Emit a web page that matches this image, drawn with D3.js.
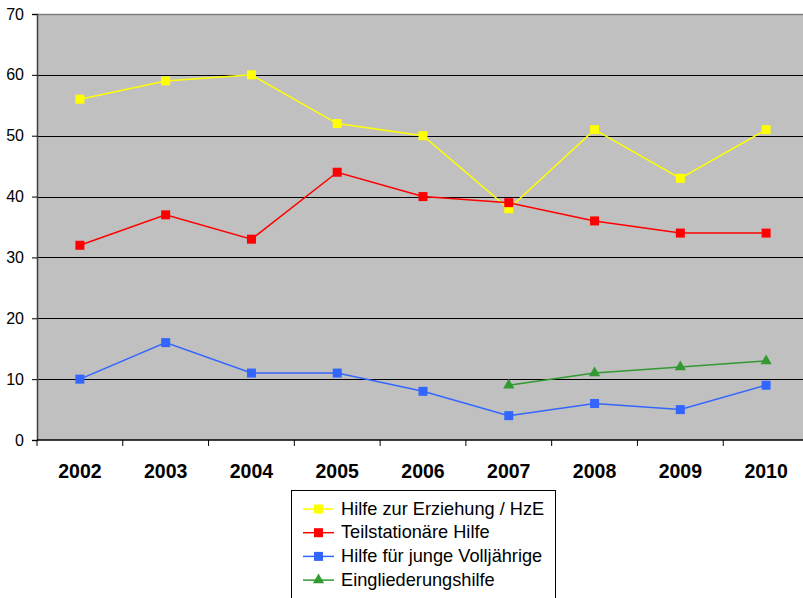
<!DOCTYPE html>
<html>
<head>
<meta charset="utf-8">
<script src="https://cdn.jsdelivr.net/npm/d3@7"></script>
<style>
  html, body { margin: 0; padding: 0; background: #fff; overflow: hidden; }
  svg { display: block; font-family: Arial, "Liberation Sans", sans-serif; }
</style>
</head>
<body>
<svg id="chart" width="803" height="598"></svg>
<script>
const years = ["2002", "2003", "2004", "2005", "2006", "2007", "2008", "2009", "2010"];
const hze = [56, 59, 60, 52, 50, 38, 51, 43, 51];
const teilstationaer = [32, 37, 33, 44, 40, 39, 36, 34, 34];
const volljaehrige = [10, 16, 11, 11, 8, 4, 6, 5, 9];
const eingliederung = [null, null, null, null, null, 9, 11, 12, 13];
const yTicks = [0, 10, 20, 30, 40, 50, 60, 70];

const series = [
  { name: "Hilfe zur Erziehung / HzE", values: hze, color: "#FFFF00", marker: "square" },
  { name: "Teilstationäre Hilfe", values: teilstationaer, color: "#FF0000", marker: "square" },
  { name: "Hilfe für junge Volljährige", values: volljaehrige, color: "#3366FF", marker: "square" },
  { name: "Eingliederungshilfe", values: eingliederung, color: "#339933", marker: "triangle" }
];

const svg = d3.select("#chart");
const plot = { left: 37, top: 14, width: 772, height: 426 };

const x = d3.scaleBand().domain(years).range([plot.left, plot.left + plot.width]);
const y = d3.scaleLinear().domain([0, 70]).range([plot.top + plot.height, plot.top]);

// plot background
svg.append("rect")
  .attr("x", plot.left).attr("y", plot.top)
  .attr("width", plot.width).attr("height", plot.height)
  .attr("fill", "#C0C0C0");

// top border
svg.append("line")
  .attr("x1", plot.left).attr("x2", plot.left + plot.width)
  .attr("y1", plot.top + 0.5).attr("y2", plot.top + 0.5)
  .attr("stroke", "#808080").attr("stroke-width", 1.5);

// horizontal gridlines
svg.append("g")
  .selectAll("line")
  .data(yTicks.filter(t => t > 0 && t < 70))
  .join("line")
  .attr("x1", plot.left).attr("x2", plot.left + plot.width)
  .attr("y1", d => Math.round(y(d)) + 0.5).attr("y2", d => Math.round(y(d)) + 0.5)
  .attr("stroke", "#000").attr("stroke-width", 1);

// y axis
const yAxis = svg.append("g")
  .attr("transform", `translate(${plot.left},0)`)
  .call(d3.axisLeft(y).tickValues(yTicks).tickSize(5).tickPadding(8));
yAxis.select(".domain").attr("stroke", "#404040").attr("stroke-width", 1.5);
yAxis.selectAll(".tick line").attr("stroke", "#000");
yAxis.selectAll("text").attr("font-size", 16).attr("fill", "#000")
  .attr("font-family", "Arial, 'Liberation Sans', sans-serif");

// x axis with ticks on category boundaries
const xAxisG = svg.append("g")
  .attr("transform", `translate(0,${plot.top + plot.height})`);
xAxisG.append("line")
  .attr("x1", plot.left).attr("x2", plot.left + plot.width)
  .attr("y1", 0).attr("y2", 0)
  .attr("stroke", "#000").attr("stroke-width", 1.5);
xAxisG.selectAll("line.tick")
  .data(years)
  .join("line")
  .attr("class", "tick")
  .attr("x1", d => x(d)).attr("x2", d => x(d))
  .attr("y1", 0).attr("y2", 6)
  .attr("stroke", "#000");
xAxisG.selectAll("text")
  .data(years)
  .join("text")
  .attr("x", d => x(d) + x.bandwidth() / 2)
  .attr("y", 37.5)
  .attr("text-anchor", "middle")
  .attr("font-size", 19.5)
  .attr("font-weight", "bold")
  .attr("fill", "#000")
  .text(d => d);

// series lines and markers
const cx = i => x(years[i]) + x.bandwidth() / 2;
const line = d3.line()
  .defined(d => d.v != null)
  .x(d => cx(d.i))
  .y(d => y(d.v));

const tri = d3.symbol().type(d3.symbolTriangle).size(55);

series.forEach(s => {
  const pts = s.values.map((v, i) => ({ v, i }));
  svg.append("path")
    .datum(pts)
    .attr("fill", "none")
    .attr("stroke", s.color)
    .attr("stroke-width", 1.5)
    .attr("d", line);
  const valid = pts.filter(p => p.v != null);
  if (s.marker === "square") {
    svg.append("g").selectAll("rect")
      .data(valid).join("rect")
      .attr("x", p => cx(p.i) - 4.5).attr("y", p => y(p.v) - 4.5)
      .attr("width", 9).attr("height", 9)
      .attr("fill", s.color);
  } else {
    svg.append("g").selectAll("path")
      .data(valid).join("path")
      .attr("transform", p => `translate(${cx(p.i)},${y(p.v)})`)
      .attr("d", tri)
      .attr("fill", s.color);
  }
});

// legend
const legend = svg.append("g");
legend.append("rect")
  .attr("x", 291.5).attr("y", 490.5)
  .attr("width", 264).attr("height", 120)
  .attr("fill", "#fff").attr("stroke", "#000").attr("stroke-width", 1);

series.forEach((s, k) => {
  const ly = 509 + k * 23.7;
  const g = legend.append("g");
  g.append("line")
    .attr("x1", 303).attr("x2", 334)
    .attr("y1", ly).attr("y2", ly)
    .attr("stroke", s.color).attr("stroke-width", 1.5);
  if (s.marker === "square") {
    g.append("rect")
      .attr("x", 314).attr("y", ly - 4.5)
      .attr("width", 9).attr("height", 9)
      .attr("fill", s.color);
  } else {
    g.append("path")
      .attr("transform", `translate(318.5,${ly})`)
      .attr("d", tri)
      .attr("fill", s.color);
  }
  g.append("text")
    .attr("x", 341).attr("y", ly + 5.5)
    .attr("font-size", 18.2)
    .attr("fill", "#000")
    .text(s.name);
});
</script>
</body>
</html>
